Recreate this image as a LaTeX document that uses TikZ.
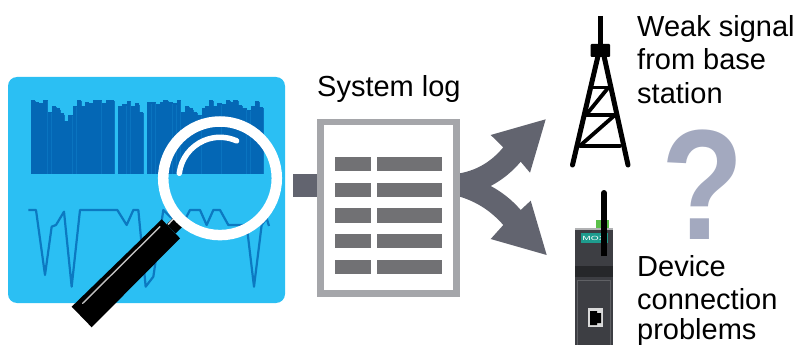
\documentclass[tikz,border=0pt]{standalone}
\usepackage{fontspec}
\setmainfont{Liberation Sans}
\definecolor{panel}{HTML}{2BBFF3}
\definecolor{bar}{HTML}{0467B5}
\definecolor{barline}{HTML}{0A74C0}
\definecolor{arrowc}{HTML}{62646F}
\definecolor{logframe}{HTML}{A5A6AA}
\definecolor{logrow}{HTML}{717174}
\definecolor{qmark}{HTML}{A3A9BF}
\definecolor{devbody}{HTML}{3D3E43}
\definecolor{devband}{HTML}{26272A}
\definecolor{teal}{HTML}{1E9C8E}
\definecolor{devgreen}{HTML}{5CC04A}
\tikzset{
  txt/.style={font=\fontsize{29}{33}\selectfont,text=black,inner sep=0pt,align=left},
  towerline/.style={line width=5pt,line cap=round,black},
  towerbar/.style={line width=3.8pt,line cap=round,black},
}
\begin{document}
\begin{tikzpicture}[x=1pt,y=-1pt]
\useasboundingbox (0,0) rectangle (796,345);
% panel
\fill[panel,rounded corners=9pt] (8,77) rectangle (285,303);
% bars and curve in zoom coordinates
\begin{scope}[shift={(0,70)},x=0.33333pt,y=-0.33333pt]
\foreach \a/\b/\t in {93/105/90,105/118/97,118/130/100,130/143/90,143/155/125,155/168/108,168/180/115,180/193/130,193/205/152,205/218/135,218/230/108,230/243/90,243/255/108,255/268/97,268/280/100,280/305/90,305/318/100,318/330/90,330/343/90,
355/367/108,367/380/103,380/392/93,392/405/108,405/417/100,417/430/125,
442/455/97,455/467/95,467/480/103,480/490/95,490/505/90,505/518/97,518/530/100,530/542/90,542/555/125,555/568/108,568/580/115,580/592/125,592/605/135,605/615/115,615/628/108,628/640/90,640/652/108,652/665/100,665/678/103,678/690/90,690/700/97,700/715/90,715/727/105,727/740/115,740/752/120,752/765/108,765/777/92,777/789/110}
  {\fill[bar] (\a,\t) rectangle (\b+0.4,312);
   \draw[barline,line width=0.4pt] (\b,\t+4) -- (\b,312);}
\draw[bar!80!panel,line width=2.2pt,line join=round]
  (85,420) -- (108,420) -- (135,615) -- (155,470) -- (168,465) -- (192,425) -- (215,650) -- (240,420) -- (352,420) -- (380,465) -- (400,420) -- (415,420) -- (437,650) -- (460,620) -- (490,420) -- (510,440) -- (548,462) -- (570,420) -- (600,420) -- (620,465) -- (640,420) -- (660,420) -- (685,465) -- (740,465) -- (762,650) -- (785,465) -- (800,445) -- (807,468);
\end{scope}
% magnifier
\fill[black] (161.7,219.3) -- (180,238.3) -- (91.7,327.3) -- (71.7,306.7) -- cycle;
\draw[black,line width=13pt] (171,229) -- (178,222);
\draw[white!75!black,line width=1.4pt,line cap=round] (82.7,303.3) -- (160,226.7);
\draw[white!80!black,line width=1.6pt] (168,224.5) -- (176,216);
\draw[white,line width=10.5pt] (220,178.3) circle (56.8);
\draw[white,line width=5.5pt,line cap=round] (179.3,173.3) arc[start angle=187,end angle=294,radius=41];
% stub and log
\fill[arrowc] (293,174) rectangle (318,197);
\fill[logframe] (317,119) rectangle (460,297);
\fill[white] (324,125) rectangle (453,290);
\foreach \y in {156.7,182.5,208.3,234,260}{
  \fill[logrow] (335,\y) rectangle (371,\y+14.3);
  \fill[logrow] (376.7,\y) rectangle (442,\y+14.3);
}
% forked arrow
\fill[arrowc] (460,173.3) .. controls (477,170) and (491,162) .. (503.3,147.3) -- (490.7,135) -- (545.7,119.3) -- (530,172.7) -- (520.7,161.7) .. controls (512,172) and (502,180) .. (490.7,186) .. controls (502,192) and (512,200) .. (520.7,210) -- (530.7,200.7) -- (546.7,255) -- (490.7,239) -- (503.3,225) .. controls (491,211) and (477,202) .. (460,196.7) -- cycle;
% tower
\draw[towerline,line cap=butt] (600,16) -- (600,46);
\fill[black,rounded corners=1pt] (590.7,44) rectangle (610,57);
\draw[towerline] (598,56) -- (572.5,165);
\draw[towerline] (604,56) -- (628,165);
\draw[towerbar] (585,115) -- (615,115);
\draw[towerbar] (580,145.7) -- (620,145.7);
\draw[towerbar] (591,87.5) -- (609,87.5);
\draw[towerbar] (608,88) -- (586,115);
\draw[towerbar] (615,115) -- (580,145.7);
% question mark
\node[name=q,font=\fontsize{157}{157}\bfseries\selectfont,text=qmark,inner sep=0pt,anchor=base,xscale=0.86] at (702.5,239) {?};
% device
\fill[devgreen] (596,220) rectangle (609,229);
\fill[devbody] (575,228) rectangle (612.7,345);
\fill[white!60!devbody] (575,228) rectangle (612.7,230);
\fill[devband] (575,266) rectangle (612.7,277);
\draw[white!18!devbody,line width=0.6pt] (577.5,280) rectangle (610.5,345);
\fill[teal] (580.7,233) rectangle (608,243);
\node[name=mox,font=\fontsize{6}{6}\selectfont,text=white,inner sep=0pt,anchor=base,xscale=1.7] at (594,240.3) {MOX};
\fill[white!85!black] (588,308) rectangle (603,327);
\fill[black] (590,311) -- (597,311) -- (597,313) -- (601,313) -- (601,323) -- (597,323) -- (597,325) -- (590,325) -- cycle;
\draw[black,line width=6pt] (604,256) -- (604,193);
\fill[black] (604,193) circle (3);
% texts
\node[txt,name=sl,anchor=base west] at (317,96) {System log};
\node[txt,name=w1,anchor=base west] at (637,37) {Weak signal};
\node[txt,name=w2,anchor=base west] at (637,70) {from base};
\node[txt,name=w3,anchor=base west] at (637,103) {station};
\node[txt,name=d1,anchor=base west] at (637,276) {Device};
\node[txt,name=d2,anchor=base west] at (637,309) {connection};
\node[txt,name=d3,anchor=base west] at (637,339) {problems};
\end{tikzpicture}
\end{document}
